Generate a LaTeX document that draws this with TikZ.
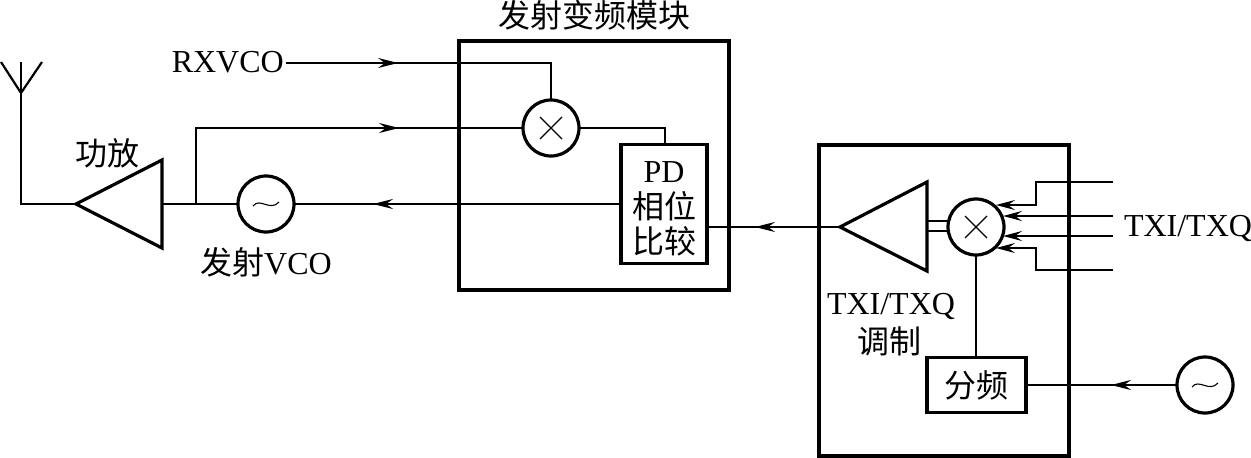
\documentclass[tikz,border=0pt]{standalone}
\usepackage{fontspec}
\setmainfont{Liberation Serif}
\newfontfamily\cjk{Noto Sans CJK SC}
\usetikzlibrary{arrows.meta,decorations.markings}
\tikzset{
  x=1pt,y=-1pt,
  wire/.style={line width=2pt,line join=miter},
  thick box/.style={draw,line width=3.2pt,inner sep=0pt,outer sep=0pt},
  ringnode/.style={circle,draw,fill=white,line width=3.2pt,minimum size=56pt,inner sep=0pt,outer sep=0pt},
  amp/.style={line width=3.2pt,line join=miter},
  label/.style={font=\fontsize{32}{35}\selectfont,inner sep=0pt},
  arrowat/.style={postaction={decorate,decoration={markings,mark=at position #1 with {\arrow{Stealth[length=20pt,width=10pt,inset=7pt]}}}}},
  endtip/.style={-{Stealth[length=19pt,width=10pt,inset=7pt]}},
  thin glyph/.style={line width=1.1pt},
}
\newcommand{\crossin}[1]{\draw[thin glyph] ([shift={(-11,-11)}]#1.center) -- ([shift={(11,11)}]#1.center) ([shift={(-11,11)}]#1.center) -- ([shift={(11,-11)}]#1.center);}
\newcommand{\tildein}[1]{\draw[thin glyph] ([shift={(-13,2)}]#1.center) .. controls ([shift={(-6,-7)}]#1.center) and ([shift={(4,8)}]#1.center) .. ([shift={(13,-2)}]#1.center);}
\begin{document}
\begin{tikzpicture}
\useasboundingbox[fill=white] (0,0) rectangle (1251,458);
% module frames
\node[thick box,minimum width=270pt,minimum height=249pt] (txmod) at (594,165.5) {};
\node[thick box,minimum width=250pt,minimum height=311pt] (iqmod) at (944,300.5) {};
% coordinates
\coordinate (antTop) at (21,62);
\coordinate (antFoot) at (21,93);
\coordinate (antL) at (1,62);
\coordinate (antR) at (42,62);
\coordinate (antBase) at (21,204);
\coordinate (paTip) at (76,204);
\coordinate (paU) at (162,160);
\coordinate (paD) at (162,248);
\coordinate (paOut) at (162,204);
\coordinate (split) at (196,204);
\coordinate (splitUp) at (196,128);
\coordinate (ampTip) at (840,227);
\coordinate (ampU) at (927,182);
\coordinate (ampD) at (927,271);
% rings and boxes
\node[ringnode] (mix1) at (551,128) {};
\node[ringnode] (vco) at (266,204) {};
\node[ringnode] (mix2) at (976,227) {};
\node[ringnode] (osc) at (1205,385) {};
\node[thick box,fill=white,minimum width=86pt,minimum height=119pt] (pd) at (664,204) {};
\node[thick box,fill=white,minimum width=99pt,minimum height=55pt] (div) at (976.5,385) {};
\node[label,anchor=east] (rx) at (284,62) {RXVCO};
\crossin{mix1}\crossin{mix2}\tildein{vco}\tildein{osc}
% antenna
\draw[wire] (antTop) -- (antBase) -- (paTip);
\draw[wire,line width=2.2pt] (antL) -- (antFoot) -- (antR);
% amplifiers
\draw[amp] (paTip) -- (paU) -- (paD) -- cycle;
\draw[amp] (ampTip) -- (ampU) -- (ampD) -- cycle;
% connectors
\draw[wire] (paOut) -- (vco);
\coordinate (rxStart) at (286,63);
\coordinate (rxBend) at (551,63);
\draw[wire,arrowat=112pt] (rxStart) -- (rxBend) -- (mix1.north);
\draw[wire,arrowat=279pt] (split) -- (splitUp) -- (mix1.west);
\coordinate (pdBend) at (665,128);
\draw[wire] (mix1.east) -- (pdBend) -- (pd.north -| pdBend);
\draw[wire,arrowat=248pt] (pd.west) -- (vco.east);
\coordinate (pdOut) at (707,227);
\draw[wire,arrowat=85pt] (ampTip) -- (pdOut);
\coordinate (ampA) at (927,221);\coordinate (mixA) at (949,221);
\coordinate (ampB) at (927,231);\coordinate (mixB) at (949,231);
\draw[wire] (ampA) -- (mixA) (ampB) -- (mixB);
\draw[wire] (mix2.south) -- (div.north -| mix2);
\draw[wire,arrowat=66pt] (osc.west) -- (div.east);
% TXI/TXQ inputs
\coordinate (i1) at (1113,182);\coordinate (i1a) at (1036,182);\coordinate (i1b) at (1036,205);\coordinate (i1t) at (996,205);
\coordinate (i2) at (1113,216);\coordinate (i2t) at (1003,216);
\coordinate (i3) at (1113,236);\coordinate (i3t) at (1003,236);
\coordinate (i4) at (1113,270);\coordinate (i4a) at (1036,270);\coordinate (i4b) at (1036,248);\coordinate (i4t) at (996,248);
\draw[wire,endtip] (i1) -- (i1a) -- (i1b) -- (i1t);
\draw[wire,endtip] (i2) -- (i2t);
\draw[wire,endtip] (i3) -- (i3t);
\draw[wire,endtip] (i4) -- (i4a) -- (i4b) -- (i4t);
% labels
\node[label] (t1) at (594,15) {\cjk 发射变频模块};
\node[label] (t2) at (107,153) {\cjk 功放};
\node[label] (t3) at (266,262) {{\cjk 发射}VCO};
\node[label] (t4) at (664,172) {PD};
\node[label] (t5) at (664,206) {\cjk 相位};
\node[label] (t6) at (664,241) {\cjk 比较};
\node[label] (t7) at (1188,228) {TXI/TXQ};
\node[label] (t8) at (891,306) {TXI/TXQ};
\node[label] (t9) at (889,341) {\cjk 调制};
\node[label] (t10) at (976,385) {\cjk 分频};
\end{tikzpicture}
\end{document}
